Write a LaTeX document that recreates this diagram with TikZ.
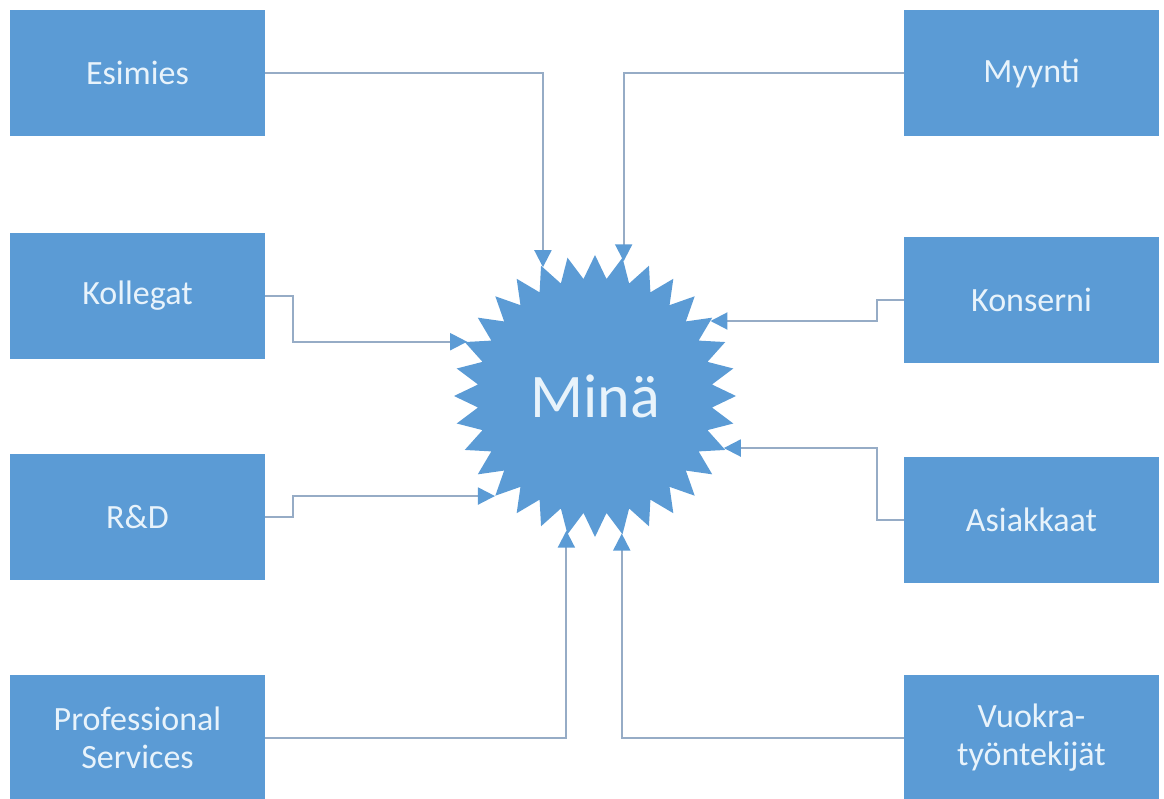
\documentclass[tikz,border=0pt]{standalone}
\usepackage{fontspec}
\setmainfont{Carlito}
\usetikzlibrary{shapes.geometric,arrows.meta}
\definecolor{boxblue}{RGB}{91,155,213}
\definecolor{linkgray}{RGB}{150,172,198}
\definecolor{paletext}{RGB}{232,243,251}

\begin{document}
\begin{tikzpicture}[x=1pt,y=-1pt,
  box/.style={rectangle,fill=boxblue,minimum width=255pt,minimum height=126pt,
    align=center,text=paletext,font=\fontsize{34}{38}\selectfont},
  link/.style={draw=linkgray,line width=2pt,
    -{Triangle[length=17pt,width=17pt,color=boxblue]}}]
\useasboundingbox (0,0) rectangle (1164,799);

\node[box] (esimies) at (137.5,73) {Esimies};
\node[box] (kollegat) at (137.5,296) {Kollegat};
\node[box] (rd) at (137.5,517) {R\&D};
\node[box] (prof) at (137.5,738) {Professional\\Services};

\node[box] (myynti) at (1031.5,73) {Myynti};
\node[box] (konserni) at (1031.5,300) {Konserni};
\node[box] (asiakkaat) at (1031.5,520) {Asiakkaat};
\node[box] (vuokra) at (1031.5,738) {Vuokra-\\työntekijät};

\node[star,star points=32,star point ratio=1.2,minimum size=282pt,inner sep=0pt,
  fill=boxblue,text=paletext,font=\fontsize{62}{70}\selectfont] (mina) at (595,396) {Minä};

\draw[link] (esimies.east) -| (mina.112.5);
\draw[link] (kollegat.east) -- ++(28,0) |- (mina.157.5);
\draw[link] (rd.east) -- ++(28,0) |- (mina.225);
\draw[link] (prof.east) -| (mina.258.75);

\draw[link] (myynti.west) -| (mina.78.75);
\draw[link] (konserni.west) -- ++(-27,0) |- (mina.33.75);
\draw[link] (asiakkaat.west) -- ++(-27,0) |- (mina.-22.5);
\draw[link] (vuokra.west) -| (mina.281.25);
\end{tikzpicture}
\end{document}
